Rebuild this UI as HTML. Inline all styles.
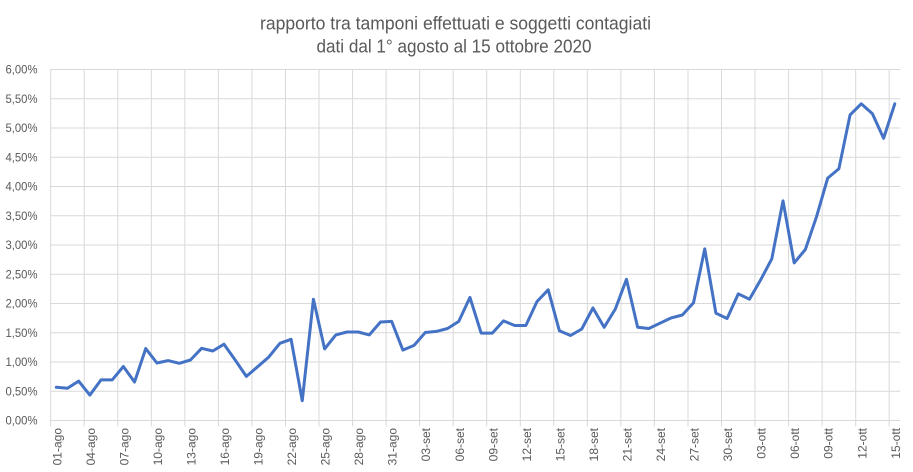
<!DOCTYPE html>
<html>
<head>
<meta charset="utf-8">
<style>
html,body{margin:0;padding:0;background:#fff;}
svg{display:block;}
text{font-family:"Liberation Sans",Arial,sans-serif;fill:#595959;}
</style>
</head>
<body>
<svg width="913" height="472" viewBox="0 0 913 472" xmlns="http://www.w3.org/2000/svg">
<rect width="913" height="472" fill="#fff"/>
<!-- title -->
<text x="455.5" y="29.3" font-size="18" text-anchor="middle" textLength="391" lengthAdjust="spacingAndGlyphs">rapporto tra tamponi effettuati e soggetti contagiati</text>
<text x="454" y="52.5" font-size="18" text-anchor="middle" textLength="275" lengthAdjust="spacingAndGlyphs">dati dal 1° agosto al 15 ottobre 2020</text>

<!-- horizontal gridlines -->
<g stroke="#d9d9d9" stroke-width="1">
<line x1="50.7" x2="900.4" y1="69.5" y2="69.5"/>
<line x1="50.7" x2="900.4" y1="98.8" y2="98.8"/>
<line x1="50.7" x2="900.4" y1="128" y2="128"/>
<line x1="50.7" x2="900.4" y1="157.3" y2="157.3"/>
<line x1="50.7" x2="900.4" y1="186.5" y2="186.5"/>
<line x1="50.7" x2="900.4" y1="215.8" y2="215.8"/>
<line x1="50.7" x2="900.4" y1="245" y2="245"/>
<line x1="50.7" x2="900.4" y1="274.3" y2="274.3"/>
<line x1="50.7" x2="900.4" y1="303.5" y2="303.5"/>
<line x1="50.7" x2="900.4" y1="332.8" y2="332.8"/>
<line x1="50.7" x2="900.4" y1="362" y2="362"/>
<line x1="50.7" x2="900.4" y1="391.3" y2="391.3"/>
<line x1="50.7" x2="900.4" y1="420.5" y2="420.5"/>
</g>
<!-- vertical gridlines -->
<g stroke="#d9d9d9" stroke-width="1">
<line x1="50.7" x2="50.7" y1="69.3" y2="426.5"/>
<line x1="84.2" x2="84.2" y1="69.3" y2="426.5"/>
<line x1="117.8" x2="117.8" y1="69.3" y2="426.5"/>
<line x1="151.3" x2="151.3" y1="69.3" y2="426.5"/>
<line x1="184.9" x2="184.9" y1="69.3" y2="426.5"/>
<line x1="218.4" x2="218.4" y1="69.3" y2="426.5"/>
<line x1="251.9" x2="251.9" y1="69.3" y2="426.5"/>
<line x1="285.5" x2="285.5" y1="69.3" y2="426.5"/>
<line x1="319" x2="319" y1="69.3" y2="426.5"/>
<line x1="352.6" x2="352.6" y1="69.3" y2="426.5"/>
<line x1="386.1" x2="386.1" y1="69.3" y2="426.5"/>
<line x1="419.6" x2="419.6" y1="69.3" y2="426.5"/>
<line x1="453.2" x2="453.2" y1="69.3" y2="426.5"/>
<line x1="486.7" x2="486.7" y1="69.3" y2="426.5"/>
<line x1="520.3" x2="520.3" y1="69.3" y2="426.5"/>
<line x1="553.8" x2="553.8" y1="69.3" y2="426.5"/>
<line x1="587.3" x2="587.3" y1="69.3" y2="426.5"/>
<line x1="620.9" x2="620.9" y1="69.3" y2="426.5"/>
<line x1="654.4" x2="654.4" y1="69.3" y2="426.5"/>
<line x1="688" x2="688" y1="69.3" y2="426.5"/>
<line x1="721.5" x2="721.5" y1="69.3" y2="426.5"/>
<line x1="755" x2="755" y1="69.3" y2="426.5"/>
<line x1="788.6" x2="788.6" y1="69.3" y2="426.5"/>
<line x1="822.1" x2="822.1" y1="69.3" y2="426.5"/>
<line x1="855.7" x2="855.7" y1="69.3" y2="426.5"/>
<line x1="889.2" x2="889.2" y1="69.3" y2="426.5"/>
</g>

<!-- y labels -->
<g font-size="12" text-anchor="end">
<text x="37.5" y="73.5" textLength="32" lengthAdjust="spacingAndGlyphs">6,00%</text>
<text x="37.5" y="102.8" textLength="32" lengthAdjust="spacingAndGlyphs">5,50%</text>
<text x="37.5" y="132" textLength="32" lengthAdjust="spacingAndGlyphs">5,00%</text>
<text x="37.5" y="161.3" textLength="32" lengthAdjust="spacingAndGlyphs">4,50%</text>
<text x="37.5" y="190.5" textLength="32" lengthAdjust="spacingAndGlyphs">4,00%</text>
<text x="37.5" y="219.8" textLength="32" lengthAdjust="spacingAndGlyphs">3,50%</text>
<text x="37.5" y="249" textLength="32" lengthAdjust="spacingAndGlyphs">3,00%</text>
<text x="37.5" y="278.3" textLength="32" lengthAdjust="spacingAndGlyphs">2,50%</text>
<text x="37.5" y="307.5" textLength="32" lengthAdjust="spacingAndGlyphs">2,00%</text>
<text x="37.5" y="336.8" textLength="32" lengthAdjust="spacingAndGlyphs">1,50%</text>
<text x="37.5" y="366" textLength="32" lengthAdjust="spacingAndGlyphs">1,00%</text>
<text x="37.5" y="395.3" textLength="32" lengthAdjust="spacingAndGlyphs">0,50%</text>
<text x="37.5" y="424.5" textLength="32" lengthAdjust="spacingAndGlyphs">0,00%</text>
</g>

<!-- x labels -->
<g font-size="12" text-anchor="end">
<text transform="translate(61.3,428) rotate(-90)">01-ago</text>
<text transform="translate(94.8,428) rotate(-90)">04-ago</text>
<text transform="translate(128.4,428) rotate(-90)">07-ago</text>
<text transform="translate(161.9,428) rotate(-90)">10-ago</text>
<text transform="translate(195.5,428) rotate(-90)">13-ago</text>
<text transform="translate(229,428) rotate(-90)">16-ago</text>
<text transform="translate(262.5,428) rotate(-90)">19-ago</text>
<text transform="translate(296.1,428) rotate(-90)">22-ago</text>
<text transform="translate(329.6,428) rotate(-90)">25-ago</text>
<text transform="translate(363.2,428) rotate(-90)">28-ago</text>
<text transform="translate(396.7,428) rotate(-90)">31-ago</text>
<text transform="translate(430.2,428) rotate(-90)">03-set</text>
<text transform="translate(463.8,428) rotate(-90)">06-set</text>
<text transform="translate(497.3,428) rotate(-90)">09-set</text>
<text transform="translate(530.9,428) rotate(-90)">12-set</text>
<text transform="translate(564.4,428) rotate(-90)">15-set</text>
<text transform="translate(597.9,428) rotate(-90)">18-set</text>
<text transform="translate(631.5,428) rotate(-90)">21-set</text>
<text transform="translate(665,428) rotate(-90)">24-set</text>
<text transform="translate(698.6,428) rotate(-90)">27-set</text>
<text transform="translate(732.1,428) rotate(-90)">30-set</text>
<text transform="translate(765.6,428) rotate(-90)">03-ott</text>
<text transform="translate(799.2,428) rotate(-90)">06-ott</text>
<text transform="translate(832.7,428) rotate(-90)">09-ott</text>
<text transform="translate(866.3,428) rotate(-90)">12-ott</text>
<text transform="translate(899.8,428) rotate(-90)">15-ott</text>
</g>

<!-- data line -->
<polyline fill="none" stroke="#4472C4" stroke-width="3" stroke-linejoin="round" stroke-linecap="round" points="
56.29,387.3 67.47,388.3 78.65,381.1 89.83,395.1 101.01,379.9 112.19,379.9 123.37,366.5 134.55,382.0
145.73,348.6 156.91,363.0 168.09,360.6 179.27,363.3 190.45,360.0 201.63,348.3 212.81,351.0 223.99,344.2
235.17,360.0 246.35,376.4 257.53,366.8 268.71,357.1 279.89,343.3 291.07,339.3 302.25,400.7 313.43,299.2
324.61,348.9 335.79,334.9 346.97,332.0 358.15,332.0 369.33,334.9 380.51,322.0 391.69,321.4 402.87,350.1
414.05,345.4 425.23,332.55 436.41,331.4 447.59,328.5 458.77,321.4 469.95,297.4 481.13,333.1 492.31,333.1
503.49,320.85 514.67,325.5 525.85,325.5 537.03,301.5 548.21,289.8 559.39,330.8 570.57,335.5 581.75,329.0
592.93,308.0 604.11,327.3 615.29,309.15 626.47,279.3 637.65,327.3 648.83,328.5 660.01,323.2 671.19,317.9
682.37,315.0 693.55,302.7 704.73,248.9 715.91,313.2 727.09,318.5 738.27,293.9 749.45,299.2 760.63,279.9
771.81,258.8 782.99,200.9 794.17,262.9 805.35,249.5 816.53,216.7 827.71,178.1 838.89,168.75 850.07,114.9
861.25,103.8 872.43,113.8 883.61,138.3 894.79,103.8"/>
</svg>
</body>
</html>
